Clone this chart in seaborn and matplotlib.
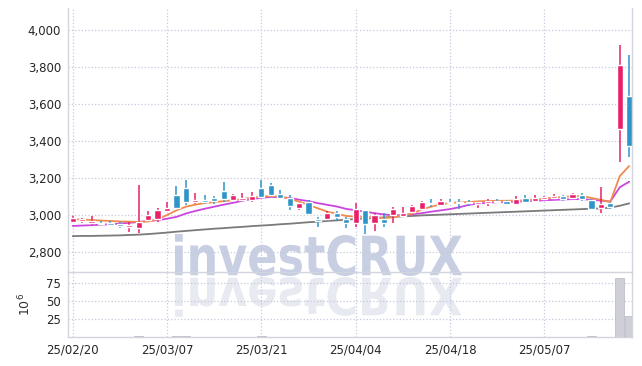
import matplotlib
matplotlib.use('Agg')
import matplotlib.pyplot as plt
import numpy as np
import pandas as pd
import seaborn as sns
from matplotlib.textpath import TextPath
from matplotlib.patches import PathPatch
from matplotlib.font_manager import FontProperties
from matplotlib.transforms import Affine2D

# ---- data ----
tick_pos = [0, 10, 20, 30, 40, 50]
tick_labels = ['25/02/20', '25/03/07', '25/03/21', '25/04/04', '25/04/18', '25/05/07']

opens = [2960, 2966, 2958, 2957, 2955, 2953, 2937, 2932, 2973, 2978,
         3023, 3108, 3148, 3069, 3081, 3094, 3130, 3080, 3083, 3081,
         3148, 3162, 3112, 3090, 3040, 3072, 2978, 2978, 3013, 2978,
         2959, 3027, 2955, 2978, 3000, 2995, 3018, 3031, 3063, 3054,
         3072, 3072, 3070, 3058, 3063, 3076, 3074, 3060, 3090, 3077,
         3085, 3090, 3103, 3094, 3108, 3081, 3038, 3067, 3467, 3643]
highs = [2993, 2985, 2993, 2968, 2966, 2960, 2961, 3162, 3022, 3040,
         3072, 3158, 3189, 3117, 3108, 3101, 3180, 3115, 3117, 3122,
         3189, 3171, 3135, 3108, 3063, 3081, 2991, 3022, 3022, 2991,
         3063, 3027, 3009, 3009, 3045, 3045, 3055, 3077, 3085, 3085,
         3085, 3085, 3081, 3072, 3085, 3085, 3081, 3103, 3108, 3108,
         3103, 3112, 3108, 3117, 3117, 3085, 3153, 3072, 3919, 3865]
lows = [2955, 2957, 2948, 2944, 2940, 2928, 2907, 2901, 2968, 2964,
        3018, 3036, 3054, 3058, 3061, 3061, 3072, 3076, 3076, 3072,
        3094, 3103, 3085, 3027, 3025, 3000, 2934, 2972, 2968, 2928,
        2934, 2897, 2915, 2934, 2955, 2991, 3013, 3027, 3045, 3050,
        3058, 3032, 3050, 3040, 3050, 3067, 3056, 3053, 3063, 3069,
        3081, 3087, 3076, 3087, 3076, 3031, 3009, 3031, 3285, 3312]
closes = [2985, 2977, 2969, 2952, 2947, 2941, 2946, 2964, 3000, 3027,
          3040, 3040, 3072, 3081, 3069, 3076, 3087, 3108, 3094, 3103,
          3099, 3108, 3090, 3050, 3063, 3004, 2967, 3013, 2991, 2959,
          3031, 2950, 3000, 2955, 3031, 3013, 3050, 3072, 3058, 3077,
          3067, 3063, 3066, 3072, 3076, 3069, 3060, 3087, 3069, 3092,
          3099, 3103, 3087, 3114, 3087, 3031, 3059, 3042, 3811, 3373]

ma5 = [2977, 2975, 2973, 2970, 2968, 2965, 2964, 2963, 2965, 2977,
       3000, 3025, 3045, 3056, 3065, 3070, 3075, 3080, 3086, 3094,
       3099, 3103, 3100, 3088, 3072, 3055, 3036, 3018, 3006, 2995,
       2991, 2990, 2988, 2983, 2988, 2998, 3008, 3030, 3045, 3058,
       3065, 3068, 3070, 3074, 3076, 3077, 3077, 3078, 3080, 3084,
       3088, 3095, 3098, 3101, 3103, 3092, 3082, 3070, 3210, 3265]
ma10 = [2941, 2943, 2945, 2948, 2950, 2954, 2958, 2962, 2968, 2972,
        2980, 2990, 3008, 3022, 3034, 3045, 3056, 3066, 3077, 3086,
        3093, 3098, 3096, 3092, 3083, 3075, 3064, 3055, 3046, 3033,
        3026, 3018, 3010, 3003, 2999, 2999, 3004, 3010, 3018, 3025,
        3032, 3042, 3055, 3062, 3066, 3069, 3070, 3072, 3074, 3077,
        3080, 3082, 3084, 3086, 3086, 3082, 3078, 3073, 3150, 3180]
ma60 = [2886, 2887, 2887, 2888, 2889, 2890, 2892, 2894, 2897, 2901,
        2905, 2910, 2914, 2918, 2922, 2926, 2929, 2933, 2936, 2940,
        2943, 2946, 2950, 2953, 2957, 2961, 2964, 2968, 2971, 2975,
        2978, 2981, 2984, 2987, 2990, 2993, 2995, 2998, 3000, 3002,
        3004, 3006, 3008, 3010, 3012, 3014, 3016, 3018, 3020, 3022,
        3024, 3026, 3028, 3030, 3032, 3034, 3036, 3040, 3050, 3063]

# volume in millions of shares
volume = [0.3, 0.3, 0.2, 0.2, 0.3, 0.3, 0.4, 1.5, 0.5, 0.5,
          0.6, 1.2, 2.0, 0.4, 0.3, 0.3, 0.6, 0.3, 0.3, 0.3,
          1.0, 0.5, 0.3, 0.4, 0.3, 0.4, 0.3, 0.3, 0.3, 0.3,
          0.4, 0.4, 0.3, 0.3, 0.3, 0.2, 0.3, 0.3, 0.2, 0.2,
          0.2, 0.2, 0.2, 0.2, 0.2, 0.2, 0.2, 0.3, 0.2, 0.2,
          0.2, 0.2, 0.2, 0.3, 0.3, 0.8, 0.6, 0.4, 83.0, 29.0]

df = pd.DataFrame({'day': np.arange(len(opens)), 'open': opens, 'high': highs,
                   'low': lows, 'close': closes, 'ma5': ma5, 'ma10': ma10,
                   'ma60': ma60, 'volume': volume})

UP = '#e8206a'
DOWN = '#2f95c8'
GRID = '#c5c9dc'
SPINE = '#d2d4de'

sns.set_theme(style='white')
plt.rcParams['font.family'] = ['DejaVu Sans']

fig = plt.figure(figsize=(6.42, 3.66), dpi=100)
W, H = 642, 366
ax = fig.add_axes([68 / W, 1 - 272 / H, (632 - 68) / W, (272 - 8) / H])
axv = fig.add_axes([68 / W, 1 - 337 / H, (632 - 68) / W, (337 - 272) / H])
for a in (ax, axv):
    a.set_facecolor('none')

# watermark + reflection, drawn in pixel space behind the axes
fp = FontProperties(family='DejaVu Sans', weight='bold')
tp = TextPath((0, 0), 'investCRUX', size=100, prop=fp)
ext = tp.get_extents()
sx = (462 - 175) / ext.width
sy = (276 - 234) / ext.height
base = H - 276
to_px = Affine2D().scale(1 / 100.0) + fig.dpi_scale_trans
t1 = Affine2D().translate(-ext.x0, -ext.y0).scale(sx, sy).translate(175, base) + to_px
t2 = Affine2D().translate(-ext.x0, -ext.y0).scale(sx, -sy * 0.95).translate(175, base - 1) + to_px
fig.patches.append(PathPatch(tp, transform=t1, facecolor='#c8cfe3', edgecolor='none', zorder=-1))
fig.patches.append(PathPatch(tp, transform=t2, facecolor='#e8eaf1', edgecolor='none', zorder=-1))

# moving averages (under the candles)
sns.lineplot(data=df, x='day', y='ma60', ax=ax, color='#7a7a7a', lw=1.3, zorder=2)
sns.lineplot(data=df, x='day', y='ma10', ax=ax, color='#cc44e0', lw=1.3, zorder=2.5)
sns.lineplot(data=df, x='day', y='ma5', ax=ax, color='#f08a4b', lw=1.3, zorder=3)

# candles
colors = [UP if c >= o else DOWN for o, c in zip(df['open'], df['close'])]
ax.vlines(df['day'], df['low'], df['high'], colors=colors, lw=1.1, zorder=4)
body_lo = np.minimum(df['open'], df['close'])
body_h = np.maximum(np.abs(df['close'] - df['open']), 3)
ax.bar(df['day'], body_h, bottom=body_lo, width=0.66, color=colors, zorder=5)

# volume
axv.bar(df['day'], df['volume'], width=0.92, color='#cfcfd8', edgecolor='#b8b8c4', lw=0.5, zorder=3)

ax.set_xlim(-0.5, 59.3)
axv.set_xlim(-0.5, 59.3)
ax.set_ylim(2692, 4119)
axv.set_ylim(0, 91)

ax.set_yticks(np.arange(2800, 4001, 200))
ax.set_yticklabels([f'{v:,}' for v in range(2800, 4001, 200)])
axv.set_yticks([25, 50, 75])
ax.set_xticks(tick_pos)
ax.set_xticklabels([])
axv.set_xticks(tick_pos)
axv.set_xticklabels(tick_labels)

for a in (ax, axv):
    a.set_xlabel('')
    a.set_ylabel('')
    a.grid(True, linestyle=':', color=GRID, lw=0.9)
    a.set_axisbelow(True)
    a.tick_params(length=0, labelsize=8.5, labelcolor='#262626', pad=5)
    for s in ('left', 'right', 'bottom'):
        a.spines[s].set_color(SPINE)
        a.spines[s].set_linewidth(1)
    a.spines['top'].set_visible(False)

axv.set_ylabel('$10^6$', fontsize=9, color='#333333', rotation=90)
axv.yaxis.set_label_coords(-0.062, 0.5)

fig.savefig('out.png', dpi=100)
